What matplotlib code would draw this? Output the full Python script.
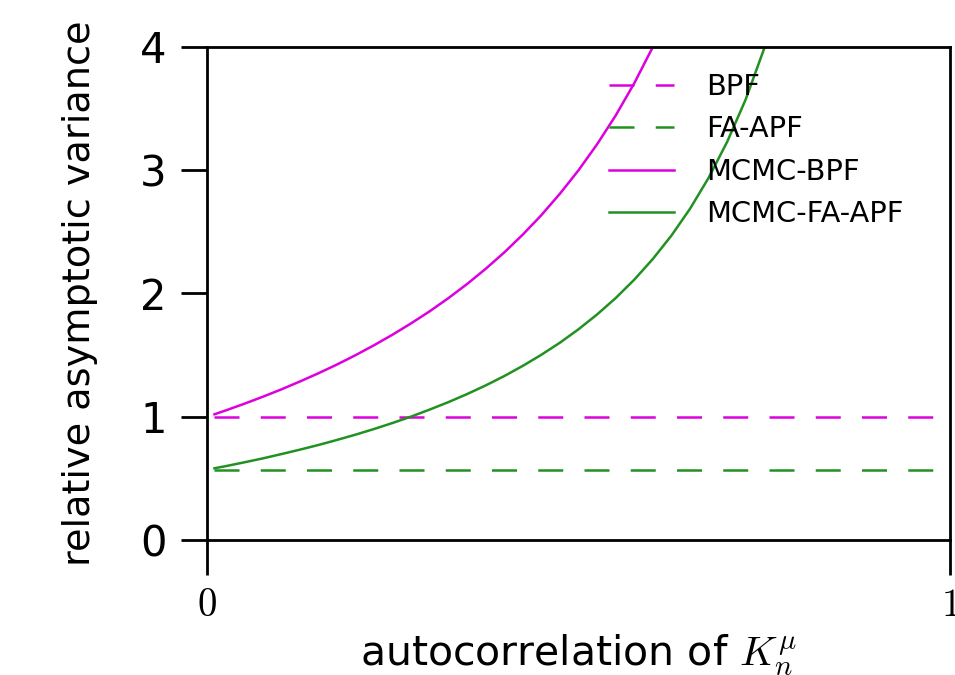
import matplotlib
matplotlib.use("Agg")
import matplotlib.pyplot as plt

plt.rcParams['mathtext.fontset'] = 'cm'
plt.rcParams['font.family'] = ['DejaVu Sans']

rho = [0.01, 0.025, 0.05, 0.075, 0.1, 0.125, 0.15, 0.175, 0.2, 0.225, 0.25,
       0.275, 0.3, 0.325, 0.35, 0.375, 0.4, 0.425, 0.45, 0.475, 0.5, 0.525,
       0.55, 0.575, 0.6]
mcmc_bpf = [1.020, 1.051, 1.105, 1.162, 1.222, 1.286, 1.353, 1.424, 1.500,
            1.581, 1.667, 1.759, 1.857, 1.963, 2.077, 2.200, 2.333, 2.478,
            2.636, 2.810, 3.000, 3.211, 3.444, 3.706, 4.000]

rho_fa = [0.01, 0.025, 0.05, 0.075, 0.1, 0.125, 0.15, 0.175, 0.2, 0.225, 0.25,
          0.275, 0.3, 0.325, 0.35, 0.375, 0.4, 0.425, 0.45, 0.475, 0.5, 0.525,
          0.55, 0.575, 0.6, 0.625, 0.65, 0.675, 0.7, 0.725, 0.75, 0.752]
mcmc_fa_apf = [0.582, 0.599, 0.630, 0.662, 0.697, 0.733, 0.771, 0.812, 0.855,
               0.901, 0.950, 1.002, 1.059, 1.119, 1.184, 1.254, 1.330, 1.413,
               1.503, 1.601, 1.710, 1.830, 1.963, 2.112, 2.280, 2.470, 2.687,
               2.938, 3.230, 3.575, 3.990, 4.000]

rho_flat = [0.01, 1.0]
bpf = [1.0, 1.0]
fa_apf = [0.57, 0.57]

magenta = '#dd00dd'
green = '#229122'

fig = plt.figure(figsize=(9.55, 6.75), dpi=100)
ax = fig.add_axes([0.2168, 0.2, 0.7780, 0.7304])

ax.plot(rho_flat, bpf, color=magenta, lw=1.8, dashes=(10, 8.5), label='BPF')
ax.plot(rho_flat, fa_apf, color=green, lw=1.8, dashes=(10, 8.5), label='FA-APF')
ax.plot(rho, mcmc_bpf, color=magenta, lw=1.8, label='MCMC-BPF')
ax.plot(rho_fa, mcmc_fa_apf, color=green, lw=1.8, label='MCMC-FA-APF')

ax.set_xlim(0, 1)
ax.set_ylim(0, 4)
ax.set_xticks([0, 1])
ax.set_xticklabels(['$0$', '$1$'], fontsize=28)
ax.set_yticks([0, 1, 2, 3, 4])
ax.tick_params(axis='y', direction='out', length=19, width=2, labelsize=30, pad=10)
ax.tick_params(axis='x', direction='out', length=25, width=2, pad=8)
for s in ax.spines.values():
    s.set_linewidth(2)

ax.set_ylabel('relative asymptotic variance', fontsize=27.5, labelpad=30)
ax.set_xlabel(r'autocorrelation of $K_n^{\mu}$', fontsize=29.5, labelpad=6)

ax.legend(loc='upper right', bbox_to_anchor=(0.972, 1.0), frameon=False,
          fontsize=20.8, handlelength=2.25, handletextpad=1.1, labelspacing=0.5)

fig.savefig('out.png', dpi=100)
